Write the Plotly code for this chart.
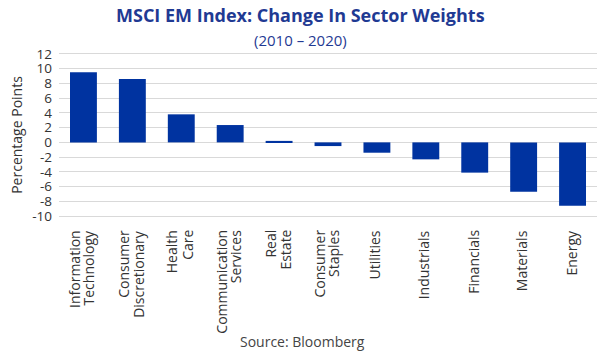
import plotly.graph_objects as go

categories = ["Information<br>Technology", "Consumer<br>Discretionary", "Health<br>Care",
              "Communication<br>Services", "Real<br>Estate", "Consumer<br>Staples",
              "Utilities", "Industrials", "Financials", "Materials", "Energy"]
values = [9.5, 8.6, 3.8, 2.35, 0.2, -0.5, -1.4, -2.3, -4.1, -6.7, -8.6]
y_ticks = list(range(-10, 13, 2))

FONT = "Open Sans"
W, H = 600, 354
ML, MR, MT, MB = 59, 3, 52, 136

fig = go.Figure(go.Bar(x=categories, y=values, marker=dict(color="#0033A0", line_width=0),
                       width=0.55))

plot_h = H - MT - MB
plot_w = W - ML - MR


def py(pix_y):
    return (H - MB - pix_y) / plot_h


def px(pix_x):
    return (pix_x - ML) / plot_w


annotations = [
    dict(text="<b>MSCI EM Index: Change In Sector Weights</b>", x=px(300), y=py(15),
         xref="paper", yref="paper", xanchor="center", yanchor="middle", showarrow=False,
         font=dict(size=18, color="#1F3A93", family=FONT)),
    dict(text="(2010 – 2020)", x=px(300), y=py(40), xref="paper", yref="paper",
         xanchor="center", yanchor="middle", showarrow=False,
         font=dict(size=15, color="#1F3A93", family=FONT)),
    dict(text="Source: Bloomberg", x=px(302), y=py(341), xref="paper", yref="paper",
         xanchor="center", yanchor="middle", showarrow=False,
         font=dict(size=14, color="#444444", family=FONT)),
]
LINE = 15
for c in categories:
    lines = c.split("<br>")
    n = len(lines)
    for i, ln in enumerate(lines):
        shift = (i - (n - 1) / 2) * LINE - 2
        annotations.append(dict(text=ln, x=c, xref="x", y=0, yref="paper", yshift=-10,
                                xshift=shift, xanchor="center", yanchor="top", textangle=-90,
                                showarrow=False, font=dict(size=14, color="#333333", family=FONT)))

fig.update_layout(
    width=W, height=H,
    margin=dict(l=ML, r=MR, t=MT, b=MB),
    paper_bgcolor="white", plot_bgcolor="white",
    font=dict(family=FONT, size=13, color="#333333"),
    showlegend=False,
    xaxis=dict(showticklabels=False, showgrid=False, showline=False, ticks=""),
    yaxis=dict(range=[-10.25, 12.25], tickvals=y_ticks, ticktext=[str(v) for v in y_ticks],
               showgrid=True, gridcolor="#D9D9D9", gridwidth=1,
               zeroline=True, zerolinecolor="#D9D9D9", zerolinewidth=1,
               showline=False, ticks="", ticklabelstandoff=6,
               tickfont=dict(size=13.5, color="#333333"),
               title=dict(text="Percentage Points", font=dict(size=14, color="#333333"), standoff=6)),
    annotations=annotations,
)

fig.write_html("out.html")
